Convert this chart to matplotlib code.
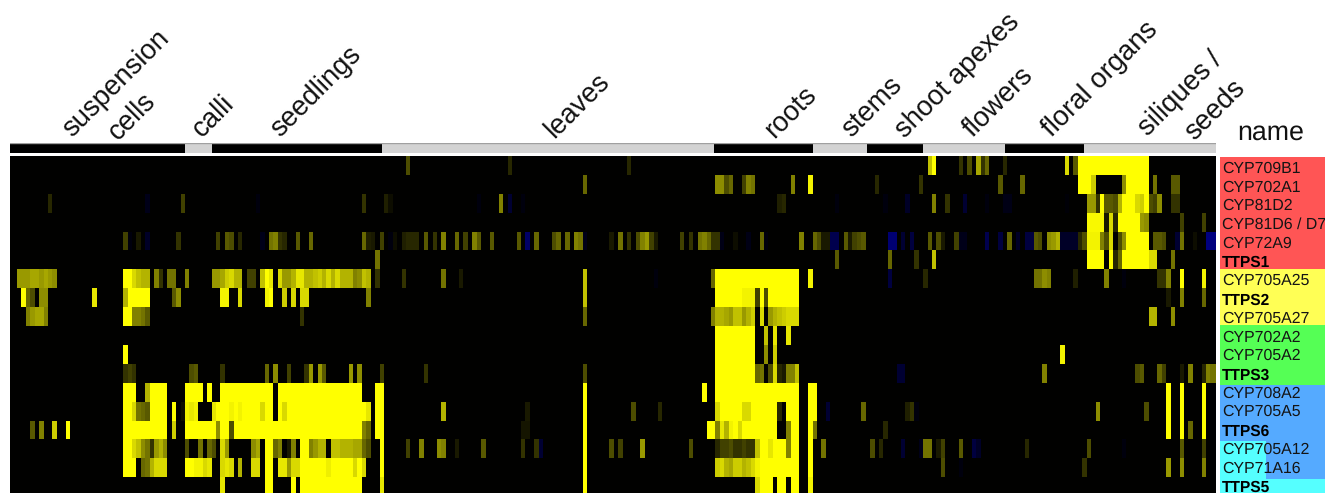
import numpy as np
import matplotlib
matplotlib.use("Agg")
import matplotlib.pyplot as plt
from matplotlib.colors import LinearSegmentedColormap

plt.rcParams['font.family'] = ['Liberation Sans', 'DejaVu Sans']
plt.rcParams['text.hinting'] = 'no_hinting'

W, H = 1325, 493
N_COLS = 274

gene_names = ["CYP709B1", "CYP702A1", "CYP81D2", "CYP81D6 / D7", "CYP72A9", "TTPS1",
              "CYP705A25", "TTPS2", "CYP705A27", "CYP702A2", "CYP705A2", "TTPS3",
              "CYP708A2", "CYP705A5", "TTPS6", "CYP705A12", "CYP71A16", "TTPS5"]

tissue_labels = ["suspension", "cells", "calli", "seedlings", "leaves", "roots", "stems",
                 "shoot apexes", "flowers", "floral organs", "siliques /", "seeds"]
tissue_sample_counts = [40, 6.1, 38.5, 75.1, 22.4, 12.2, 12.7, 18.5, 17.9, 30.5]

# Expression per gene: {column: value} or {(first_column, last_column): value}
cyp709b1 = {90: .3, 113: .15, 140: .15, 208: .75, 209: 1, 215: .2, 217: .3, 219: .65, 220: .2, 221: .4,
            225: .15, 239: .85, 241: .35, (242, 257): 1}
cyp702a1 = {130: .4, 160: .55, 161: .55, 162: .3, 163: .4, 166: .25, 167: .5, 168: .45, 177: .5, 181: .95,
            196: .15, 206: .2, 224: .35, 229: .4, (242, 244): 1, 245: .8, 252: .55, (253, 257): 1,
            259: .45, 263: .35, 264: .35}
cyp81d2 = {9: .15, 31: -.1, 39: .25, 56: -.05, 80: .2, 85: .12, 86: .05, 106: -.05, 111: .5, 113: -.2,
           116: -.05, 174: .12, 175: .15, 187: -.05, 198: -.05, 203: -.15, 209: .5, 212: .2, 216: -.2,
           221: -.05, 225: -.08, 226: -.08, 239: -.03, 244: .6, 245: .6, 246: .2, 247: 1, 248: .35,
           249: .35, 250: .3, 251: .7, (252, 254): 1, 255: .85, 256: .8, 257: 1, 258: .3, 259: .25,
           260: .55, 263: .2, 264: .2}
cyp81d6 = {(244, 247): .97, 248: .1, 249: .85, 250: .15, (251, 255): 1, 256: .6, 257: .55, 265: .25, 270: .25}
cyp72a9 = {26: .25, 27: -.05, 29: .1, 31: -.15, 38: .2, 47: .25, 49: .35, 50: .3, 52: .15, 57: -.1,
           59: .45, 60: .5, 61: .2, 62: .15, 65: .35, 68: .4, 80: .4, 81: .12, 82: .1, 84: .25, 86: -.05,
           87: .05, 89: .12, 90: .15, 91: .15, 92: .15,
           94: .35, 96: .2, 98: .5, 101: .4, 103: .25, 105: .5, 106: .35, 109: .35, 115: .35, 117: -.4,
           119: .4, 123: .3, 124: .4, 126: .4, 128: .5, 129: .45, 130: -.1, 136: .1, 138: .45, 140: .2,
           142: .3, 143: .5, 144: .6, 145: .25, 146: .1, 152: .25, 154: .2, 156: .45, 157: .5, 158: .4,
           159: .2, 160: .2, 161: -.08, 164: .05, 167: -.08, 170: .4, 171: -.05, 179: .5, 182: .4, 183: .3,
           184: .1, 185: .1, 186: -.3, 187: -.3,
           189: .35, 190: .1, 191: .25, 192: .3, 193: .35, 199: -.45, 200: -.45, 202: -.2, 204: -.25,
           208: .35, 210: .3, 211: .1, 214: .25, 215: -.1, 216: -.1, 221: -.3, 224: -.25, 226: .4, 228: -.15,
           230: -.25, 231: -.25, 232: .35, 233: .3, 235: .55, 236: .6, 237: .7, 238: -.15, 239: -.15,
           240: -.15, 241: -.15, 242: .15, 243: .3, (244, 246): .95, 247: .5, 248: .3, 249: .85, 251: .3,
           252: .55, (253, 257): 1, 259: .35, 260: .35, 261: .3, 264: -.2, 265: .45, 268: .05,
           271: -.5, 272: -.5, 273: -.5}
ttps1 = {83: .45, 187: .35, 199: .4, 205: .2, 209: .75, (244, 247): 1, 249: 1, 250: .15, 251: .4,
         (252, 257): 1, 258: .85, 259: .85, 263: .45}
cyp705a25 = {2: .6, 3: .6, 4: .6, 5: .65, 6: .65, 7: .6, 8: .65, 9: .6, 10: .55,
             26: 1, 27: 1, 28: .85, 29: .75, 30: .7, 31: .7, 33: .5, 34: .2, 36: .45, 37: .45, 40: .5,
             46: .6, 47: .6, 48: .65, 49: .8, 50: .85, 51: .7, 52: .7, 54: .25, 55: .25, 57: .75, 58: 1, 59: .9,
             61: .85, 62: .6, 63: .6, 64: .7, 65: .9, 66: .9, 67: .7, 68: .7, 69: .75, 70: .8, 71: .7, 72: .85,
             73: .7, 74: .85, 75: .7, 76: .7, 77: .7, 78: .5, 79: .55, 80: .75, 81: .7, 83: .2, 89: .2,
             98: .45, 102: .1, 130: .75, 146: -.05, 159: .4, (160, 178): 1, 181: .95,
             199: -.25, 207: .15, 232: .45, 233: .45, 234: .55, 235: .5, 241: .12, 248: .5, 252: -.05,
             260: .2, 261: .2, 262: .5, 265: 1, 270: .95}
ttps2 = {3: 1, 4: .4, 5: .3, 7: .55, 8: .55, 19: .9, 26: .7, (27, 31): 1, 37: .35, 38: .55, 48: .95, 49: .95,
         52: .85, 58: .95, 59: 1, 62: .8, 64: .85, 66: .85, 67: .85, 81: .5,
         130: .75, (160, 178): 1, 166: .95, 167: .95, 168: .95, 169: .25, 171: .3,
         262: .1, 265: .5, 270: .4}
cyp705a27 = {4: .5, 5: .6, 6: .65, 7: .65, 8: .5, 26: 1, 27: 1, 28: .5, 29: .5, 30: .45, 31: .35, 66: .2,
             130: .4, 159: .5, 160: .7, 161: .7, 162: .65, 163: .6, 164: .75, 165: .75, 166: .6, 167: .7,
             168: .8, 170: .85, 172: .6, 173: .7, 174: .75, 175: .8, 176: .85, 177: .85, 178: .85,
             258: .7, 259: .7, 263: .55}
cyp702a2 = {(160, 168): 1, 171: .75, 173: .9, 176: .9}
cyp705a2 = {26: 1, (160, 168): 1, 171: .55, 173: .8, 238: .95}
ttps3 = {26: .2, 27: .25, 28: .2, 41: .3, 42: .35, 48: .2, 58: .4, 60: .55, 63: .25, 67: .2, 68: .6,
         70: .6, 71: .35, 77: .6, 79: .55, 84: .25, 94: .2, 130: .3, (160, 168): 1, 169: .4, 170: .45,
         172: .3, 173: .85, 174: .15, 175: .1, 176: .5, 177: .5, 178: .75,
         201: -.2, 202: -.2, 234: .5, 255: .3, 256: .35, 260: .4, 261: .25, 265: .1, 267: .5,
         270: .15, 271: .5, 272: .45, 273: .45}
cyp708a2 = {(26, 28): 1, 31: .7, (32, 35): 1, (40, 43): 1, 45: 1, (48, 59): 1, (61, 79): 1, 83: 1, 84: 1,
            130: 1, 157: 1, (160, 178): 1, 181: 1, 182: 1, 262: 1, 265: 1, 270: 1}
cyp705a5 = {26: 1, 27: 1, 28: .85, 29: .45, 30: .4, 31: .35, (32, 35): 1, 37: 1, 39: .05, 40: .95, 41: .9,
            42: .95, 46: .9, (47, 56): 1, 50: .95, 52: .95, 57: .85, 58: 1, 59: 1, 61: 1, 62: .85,
            (63, 80): 1, 81: .9, 83: 1, 84: 1, 98: .7, 117: .1, 130: 1, 141: .3, 147: .15,
            160: .85, (161, 173): 1, 166: .85, 167: .85, 174: .15, (176, 178): 1, 181: 1, 182: 1, 185: -.2,
            193: .4, 203: .12, 204: .2, 205: -.05, 246: .55, 257: .3, 262: 1, 265: 1, 270: 1}
ttps6 = {5: .35, 7: .5, 10: .8, 13: 1, (26, 35): 1, 37: .8, (40, 46): 1, 47: .55, 48: 1, 49: 1, 50: .3,
         (51, 79): 1, 80: .5, 81: .4, 83: 1, 84: 1, 116: .08, 117: .08, 130: 1, 158: 1, 159: 1, 160: .5,
         161: .9, 162: .7, 163: .95, 164: 1, 165: .85, (166, 173): 1, 176: .5, 177: 1, 178: 1, 181: 1,
         182: .45, 198: .15, 262: 1, 265: 1, 267: .4, 270: 1}
cyp705a12 = {26: 1, 27: 1, 28: .85, 29: .75, 30: .55, 31: .45, 32: .2, 33: .6, 34: .7, 35: .55, 40: .3, 43: .45,
             45: .4, 46: .3, 48: .85, 49: .6, 55: .55, 56: .65, 58: 1, 59: 1, 60: .4, 61: .5, 63: .1, 64: .5,
             66: 1, 67: 1, 68: .5, 69: .6, 70: .7, 71: .7, 73: .75, 74: .75, 75: .7, 76: .7, 77: .7, 78: .65,
             79: .65, 80: .4, 81: .3, 84: 1, 90: .25, 93: .5, 97: .55, 98: .5, 101: .1, 107: .35, 116: .2,
             119: .2, 120: -.2, 130: 1, 136: .3, 138: .25, 143: .6, 154: .3, 160: .15, 161: .25, 162: .25,
             163: .3, 164: .2, 165: .2, 166: .25, 167: .2, 168: .2, 169: .75, (170, 173): 1, 172: .9,
             174: 1, 175: 1, 176: .5, 177: 1, 178: 1, 181: 1, 184: .45,
             195: .3, 197: .15, 202: -.2, 206: -.1, 207: .45, 208: .45, 210: .1, 211: .25, 215: .35,
             218: -.25, 219: -.15, 230: .15, 244: .3, 252: -.05, 265: .35, 270: .25}
cyp71a16 = {26: 1, 27: 1, 28: 1, 30: .4, 31: .45, 32: .7, 33: .85, 34: .85, 35: .85, 40: 1, 41: 1, 42: .95, 43: .95,
            44: .85, 45: .9, 48: .85, 49: .9, 50: .85, 52: .7, 55: .85, 56: .85, 58: 1, 59: 1, 61: .9, 62: .9,
            63: .6, 64: .85, 65: .85, (66, 79): 1, 72: .93, 78: .85, 80: .85, 84: 1, 130: 1,
            160: .8, 161: .85, 162: .7, 163: .65, 164: .8, 165: .8, 166: .7, 167: .75, 168: .85, 169: .95,
            (170, 178): 1, 181: 1, 211: .3, 215: -.05, 243: .2, 262: .6, 265: .55, 270: .5}
ttps5 = {48: .9, 58: 1, 59: 1, 64: 1, (66, 79): 1, 84: .9, 130: 1, 169: .85, 170: 1, 171: 1, 172: 1,
         174: 1, 175: 1, 177: 1, 178: 1, 181: .95}

expression_rows = [cyp709b1, cyp702a1, cyp81d2, cyp81d6, cyp72a9, ttps1, cyp705a25, ttps2, cyp705a27,
                   cyp702a2, cyp705a2, ttps3, cyp708a2, cyp705a5, ttps6, cyp705a12, cyp71a16, ttps5]


def expand(row):
    out = np.zeros(N_COLS)
    for key, val in row.items():
        if isinstance(key, tuple):
            out[key[0]:key[1] + 1] = val
        else:
            out[key] = val
    return out


matrix = np.array([expand(r) for r in expression_rows])

cmap = LinearSegmentedColormap.from_list("byb", ["#0000ff", "#000000", "#ffff00"])

fig = plt.figure(figsize=(W / 100, H / 100), dpi=100)


def px_axes(x0, y0, x1, y1, **kw):
    return fig.add_axes([x0 / W, 1 - y1 / H, (x1 - x0) / W, (y1 - y0) / H], **kw)


XLIM = (0.4, 273.25)

# heat map (the last row runs off the bottom of the picture, as in the reference)
ax = px_axes(10, 156, 1216, 493)
ax.imshow(matrix, cmap=cmap, vmin=-1, vmax=1, aspect='auto', interpolation='nearest',
          extent=(0, N_COLS, len(gene_names), 0))
ax.set_xlim(*XLIM)
ax.set_ylim(17.83, 0)
ax.axis('off')

# tissue strip
strip = px_axes(10, 143, 1216, 153)
edges = np.concatenate([[0], np.cumsum(tissue_sample_counts)])
for i, n in enumerate(tissue_sample_counts):
    strip.barh(0, n, left=edges[i], height=1, color='#000000' if i % 2 == 0 else '#d3d3d3', linewidth=0)
strip.set_xlim(*XLIM)
strip.set_ylim(-.5, .5)
strip.axis('off')
strip.axhline(.47, color='#a0a0a0', linewidth=1)

# tissue labels (centres of the rotated text boxes)
label_centres = [(116.5, 84), (132, 116), (213, 115.5), (316.5, 92), (577, 105.5), (790, 112),
                 (871.5, 107), (957.5, 75.5), (998, 102), (1100, 79.5), (1180.5, 93.5), (1215, 109.5)]
for text, (x, y) in zip(tissue_labels, label_centres):
    fig.text(x / W, 1 - y / H, text, rotation=45, ha='center', va='center', fontsize=19.8, color='#111111')
fig.text(1271 / W, 1 - 133 / H, "name", ha='center', va='center', fontsize=19.3, color='#111111')

# side panel
side = px_axes(1220, 156, 1325, 493)
side.set_xlim(0, 1)
side.set_ylim(len(gene_names), 0)
side.axis('off')
side.axhspan(0.06, 6.05, color='#ff5555', linewidth=0)
side.axhspan(6.05, 9.03, color='#ffff55', linewidth=0)
side.axhspan(9.03, 12.23, color='#55ff55', linewidth=0)
side.axhspan(12.23, 17.25, color='#55aaff', linewidth=0)
side.axhspan(15.22, 17.25, xmin=0, xmax=.44, color='#55ffff', linewidth=0)
side.axhspan(17.25, 18, color='#55ffff', linewidth=0)
for i, name in enumerate(gene_names):
    bold = name.startswith("TTPS")
    side.text(0.02, i + .5 + .18 + (.03 if bold else 0), name, ha='left', va='center',
              fontsize=11.2 if bold else 11.4,
              fontweight='bold' if bold else 'normal', color='#000000' if bold else '#141414', clip_on=True)

fig.savefig("out.png", dpi=100)
